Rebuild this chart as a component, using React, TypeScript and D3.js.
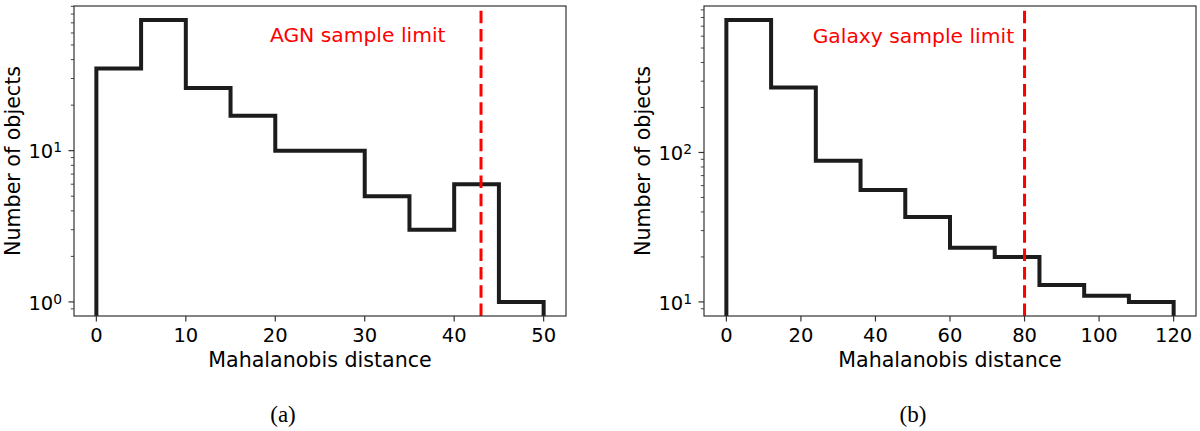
import React, { useEffect, useRef } from "react";
import * as d3 from "d3";

// panel (a) : AGN
const agnEdges = [0, 5, 10, 15, 20, 25, 30, 35, 40, 45, 50];
const agnCounts = [35, 73, 26, 17, 10, 10, 5, 3, 6, 1];
const agnXTicks = [0, 10, 20, 30, 40, 50];
const agnLimit = 43;

// panel (b) : Galaxy
const galEdges = [0, 12, 24, 36, 48, 60, 72, 84, 96, 108, 120];
const galCounts = [769, 272, 88, 56, 37, 23, 20, 13, 11, 10];
const galXTicks = [0, 20, 40, 60, 80, 100, 120];
const galLimit = 80;

const FONT = '"DejaVu Sans", sans-serif';
const AXIS = "#333";

type Panel = {
  id: string;
  left: number;
  edges: number[];
  counts: number[];
  xTicks: number[];
  limit: number;
  limitText: string;
  textAt: [number, number];
  caption: string;
  captionX: number;
};

const panels: Panel[] = [
  { id: "a", left: 74, edges: agnEdges, counts: agnCounts, xTicks: agnXTicks, limit: agnLimit,
    limitText: "AGN sample limit", textAt: [19.4, 52], caption: "(a)", captionX: 283 },
  { id: "b", left: 704, edges: galEdges, counts: galCounts, xTicks: galXTicks, limit: galLimit,
    limitText: "Galaxy sample limit", textAt: [23.15, 541], caption: "(b)", captionX: 913 },
];

const top = 6;
const width = 492;
const height = 310;

function drawPanel(svg: d3.Selection<SVGSVGElement, unknown, null, undefined>, p: Panel) {
  const g = svg.append("g").attr("id", "panel_" + p.id);

  const xMin = d3.min(p.edges)!;
  const xMax = d3.max(p.edges)!;
  const xPad = (xMax - xMin) * 0.05;
  const x = d3.scaleLinear().domain([xMin - xPad, xMax + xPad]).range([p.left, p.left + width]);

  const lo = Math.log10(d3.min(p.counts)!);
  const hi = Math.log10(d3.max(p.counts)!);
  const yPad = (hi - lo) * 0.05;
  const y = d3.scaleLog().domain([Math.pow(10, lo - yPad), Math.pow(10, hi + yPad)]).range([top + height, top]);

  g.append("clipPath").attr("id", "clip_" + p.id)
    .append("rect")
    .attr("x", p.left).attr("y", top)
    .attr("width", width).attr("height", height);

  const plot = g.append("g").attr("clip-path", "url(#clip_" + p.id + ")");

  // step histogram
  const floor = y.domain()[0] / 2;
  const pts: [number, number][] = [[p.edges[0], floor]];
  p.counts.forEach((c, i) => pts.push([p.edges[i], c]));
  pts.push([p.edges[p.edges.length - 1], p.counts[p.counts.length - 1]]);
  pts.push([p.edges[p.edges.length - 1], floor]);
  const line = d3.line<[number, number]>()
    .x(d => x(d[0]))
    .y(d => y(d[1]))
    .curve(d3.curveStepAfter);
  plot.append("path")
    .attr("d", line(pts))
    .attr("fill", "none")
    .attr("stroke", "#1c1c1c")
    .attr("stroke-width", 4)
    .attr("stroke-linejoin", "miter");

  // limit line
  plot.append("line")
    .attr("x1", x(p.limit)).attr("x2", x(p.limit))
    .attr("y1", top + height).attr("y2", top)
    .attr("stroke", "#ff0000")
    .attr("stroke-width", 3)
    .style("stroke-dasharray", "12.5, 5.8");

  g.append("text")
    .attr("x", x(p.textAt[0]))
    .attr("y", y(p.textAt[1]))
    .attr("fill", "#ff0000")
    .attr("font-family", FONT)
    .attr("font-size", 20.3)
    .text(p.limitText);

  // frame
  g.append("rect")
    .attr("x", p.left).attr("y", top)
    .attr("width", width).attr("height", height)
    .attr("fill", "none")
    .attr("stroke", AXIS)
    .attr("stroke-width", 1.2);

  // x ticks
  p.xTicks.forEach(t => {
    g.append("line")
      .attr("x1", x(t)).attr("x2", x(t))
      .attr("y1", top + height).attr("y2", top + height + 5.5)
      .attr("stroke", AXIS).attr("stroke-width", 1.2);
    g.append("text")
      .attr("x", x(t)).attr("y", top + height + 26)
      .attr("text-anchor", "middle")
      .attr("font-family", FONT).attr("font-size", 19.5)
      .attr("fill", "black")
      .text(t);
  });

  // y ticks (log)
  y.ticks().forEach(t => {
    const major = Math.abs(Math.log10(t) - Math.round(Math.log10(t))) < 1e-9;
    g.append("line")
      .attr("x1", p.left).attr("x2", p.left - (major ? 5.5 : 3.2))
      .attr("y1", y(t)).attr("y2", y(t))
      .attr("stroke", AXIS).attr("stroke-width", major ? 1.2 : 0.9);
    if (major) {
      const lbl = g.append("text")
        .attr("x", p.left - 12).attr("y", y(t) + 7.8)
        .attr("text-anchor", "end")
        .attr("font-family", FONT).attr("font-size", 19.5)
        .attr("fill", "black");
      lbl.append("tspan").text("10");
      lbl.append("tspan")
        .attr("font-size", 13.8)
        .attr("dy", -6)
        .text(Math.round(Math.log10(t)));
    }
  });

  // axis labels
  g.append("text")
    .attr("x", p.left + width / 2).attr("y", top + height + 51)
    .attr("text-anchor", "middle")
    .attr("font-family", FONT).attr("font-size", 20.6)
    .text("Mahalanobis distance");
  g.append("text")
    .attr("transform", "translate(" + (p.left - 54) + "," + (top + height / 2) + ") rotate(-90)")
    .attr("text-anchor", "middle")
    .attr("font-family", FONT).attr("font-size", 20.6)
    .text("Number of objects");

  // caption
  g.append("text")
    .attr("x", p.captionX).attr("y", 422)
    .attr("text-anchor", "middle")
    .attr("font-family", '"Liberation Serif", serif')
    .attr("font-size", 23)
    .text(p.caption);
}

export default function App() {
  const ref = useRef<SVGSVGElement>(null);

  useEffect(() => {
    document.body.style.margin = "0";
    const svg = d3.select(ref.current!);
    svg.selectAll("*").remove();
    panels.forEach(p => drawPanel(svg, p));
  }, []);

  return (
    <svg ref={ref} width={1200} height={431} style={{ display: "block", background: "white" }}></svg>
  );
}
